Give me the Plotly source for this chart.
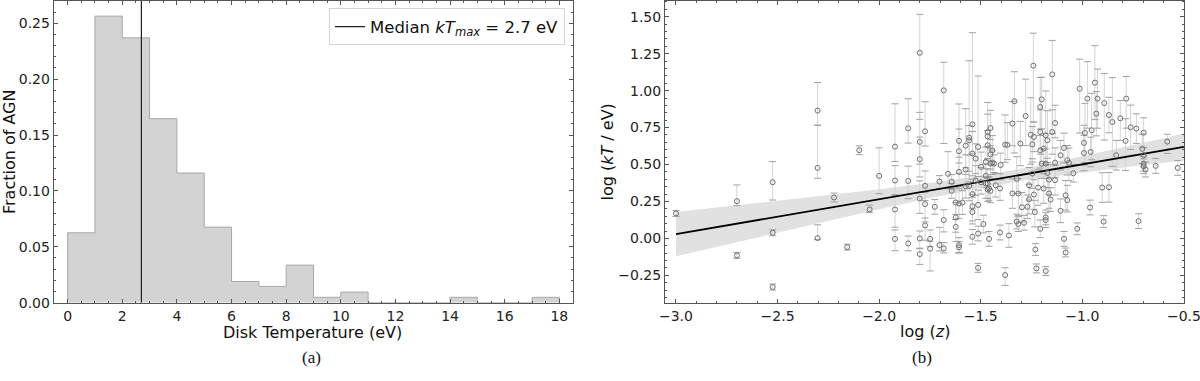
import plotly.graph_objects as go

# ---------------- Panel (a): histogram of disk temperatures ----------------
bin_edges = list(range(0, 19))
frac_agn = [0.0625, 0.2563, 0.2369, 0.1646, 0.1160, 0.0676, 0.0190, 0.0146, 0.0336,
            0.0048, 0.0095, 0.0, 0.0, 0.0, 0.0048, 0.0, 0.0, 0.0048]
median_kt = 2.7

# ---------------- Panel (b): log kT vs log z ----------------
logz = [
    -3.000,
    -2.700, -2.700,
    -2.524, -2.524, -2.524,
    -2.303, -2.303, -2.303,
    -2.222, -2.157, -2.098, -2.047, -2.000,
    -1.922, -1.922, -1.922, -1.922,
    -1.857, -1.857, -1.857,
    -1.800, -1.800, -1.800, -1.800, -1.800, -1.800,
    -1.774, -1.774, -1.774, -1.774,
    -1.749, -1.749, -1.726, -1.703, -1.703,
    -1.682, -1.682, -1.682, -1.661,
    -1.643, -1.643, -1.623, -1.623, -1.623,
    -1.607, -1.607, -1.607, -1.607, -1.607, -1.607,
    -1.590, -1.574, -1.574, -1.574,
    -1.557, -1.557, -1.557,
    -1.541, -1.541, -1.541, -1.541, -1.541, -1.541,
    -1.525, -1.525,
    -1.513, -1.513, -1.513, -1.513,
    -1.498, -1.498, -1.487,
    -1.475, -1.475, -1.475,
    -1.466, -1.466, -1.466, -1.466, -1.466,
    -1.459, -1.459,
    -1.452, -1.452, -1.452, -1.452,
    -1.443, -1.443, -1.434, -1.426,
    -1.405, -1.405, -1.402,
    -1.380, -1.380, -1.369, -1.361,
    -1.344, -1.344, -1.334,
    -1.323, -1.323, -1.315, -1.315,
    -1.305, -1.297, -1.287, -1.279, -1.270,
    -1.262, -1.262, -1.254, -1.246, -1.246, -1.241,
    -1.238, -1.238, -1.234, -1.231, -1.226, -1.218,
    -1.207, -1.207, -1.207, -1.207, -1.200, -1.200, -1.190, -1.190,
    -1.180, -1.180, -1.180, -1.180, -1.180, -1.172, -1.172, -1.164, -1.164, -1.156,
    -1.148, -1.148, -1.134, -1.134, -1.134,
    -1.107, -1.107, -1.090, -1.090, -1.082, -1.082, -1.074, -1.074, -1.066, -1.044, -1.025, -1.013,
    -0.992, -0.992, -0.987, -0.975, -0.962, -0.959, -0.954, -0.938, -0.931, -0.925,
    -0.902, -0.895, -0.892, -0.869, -0.869, -0.852, -0.833, -0.813,
    -0.787, -0.784, -0.762, -0.734, -0.723, -0.705,
    -0.698, -0.698, -0.698, -0.698, -0.689, -0.639, -0.582, -0.530,
]
logkt = [
    0.169,
    0.252, -0.115,
    0.380, 0.038, -0.329,
    0.865, 0.477, 0.002,
    0.277, -0.059, 0.597, 0.196, 0.423,
    0.621, 0.392, 0.196, -0.003,
    0.745, 0.389, -0.034,
    1.256, 0.653, 0.536, 0.270, 0.000, -0.106,
    0.725, 0.356, 0.232, 0.088,
    -0.003, -0.070, 0.214, 0.385, -0.045,
    1.002, 0.124, -0.068, 0.437,
    0.383, 0.322, 0.243, 0.142, 0.078,
    0.660, 0.590, 0.450, 0.236, -0.045, -0.060,
    0.243, 0.628, 0.466, 0.353,
    0.682, 0.664, 0.355,
    0.772, 0.574, 0.300, 0.218, 0.178, 0.011,
    0.540, 0.392,
    0.619, 0.227, 0.033, -0.199,
    0.484, 0.380, 0.097,
    0.518, 0.423, 0.371,
    0.720, 0.691, 0.630, 0.371, 0.331,
    -0.003, 0.338,
    0.747, 0.569, 0.506, 0.322,
    0.596, 0.513, 0.506, 0.360,
    0.338, 0.040, 0.497,
    0.635, -0.248, 0.633, 0.020,
    0.304, 0.777, 0.928,
    0.403, 0.114, 0.097, 0.304,
    0.642, 0.211, 0.106, 0.828, 0.214,
    0.360, 0.265, 0.702, 0.637, 0.439, 1.169,
    0.687, 0.297, 0.178, -0.075, -0.203, 0.344,
    0.889, 0.720, 0.596, 0.065, 0.941, 0.506, 0.608, 0.338,
    0.698, 0.506, 0.142, -0.221, 0.124, 0.664, 0.443, 0.398, 0.304, 0.263,
    1.110, 0.720, 0.781, 0.513, 0.394,
    0.187, 0.563, -0.003, 0.612, 0.292, -0.095, 0.259, 0.529, 0.511, 0.441, 0.065, 1.013,
    0.646, 0.578, 0.714, 0.946, 0.209, 0.585, 0.732, 1.054, 0.844, 0.946,
    0.344, 0.114, 0.916, 0.835, 0.346, 0.788, 0.563, 0.813,
    0.660, 0.946, 0.752, 0.743, 0.117, 0.606,
    0.716, 0.563, 0.506, 0.488, 0.466, 0.491, 0.655, 0.477,
]
err_up = [
    0.02,
    0.11, 0.02,
    0.14, 0.02, 0.02,
    0.19, 0.29, 0.09,
    0.03, 0.02, 0.03, 0.03, 0.19,
    0.29, 0.10, 0.10, 0.06,
    0.20, 0.10, 0.05,
    0.26, 0.20, 0.15, 0.12, 0.05, 0.04,
    0.20, 0.10, 0.08, 0.05,
    0.06, 0.05, 0.05, 0.04, 0.12,
    0.19, 0.07, 0.04, 0.15,
    0.05, 0.05, 0.10, 0.10, 0.05,
    0.25, 0.15, 0.10, 0.10, 0.05, 0.04,
    0.08, 0.25, 0.10, 0.08,
    0.52, 0.10, 0.10,
    0.62, 0.15, 0.10, 0.08, 0.10, 0.05,
    0.10, 0.10,
    0.48, 0.10, 0.05, 0.03,
    0.10, 0.10, 0.06,
    0.10, 0.08, 0.10,
    0.20, 0.15, 0.10, 0.10, 0.08,
    0.05, 0.08,
    0.12, 0.10, 0.10, 0.08,
    0.10, 0.08, 0.06, 0.08,
    0.10, 0.05, 0.08,
    0.20, 0.05, 0.15, 0.08,
    0.10, 0.15, 0.20,
    0.15, 0.05, 0.05, 0.10,
    0.15, 0.10, 0.05, 0.25, 0.08,
    0.12, 0.10, 0.25, 0.12, 0.10, 0.22,
    0.10, 0.10, 0.08, 0.04, 0.03, 0.12,
    0.20, 0.15, 0.10, 0.06, 0.15, 0.10, 0.10, 0.10,
    0.30, 0.10, 0.05, 0.03, 0.05, 0.20, 0.10, 0.10, 0.10, 0.08,
    0.23, 0.15, 0.12, 0.10, 0.10,
    0.08, 0.10, 0.05, 0.10, 0.10, 0.03, 0.10, 0.10, 0.10, 0.06, 0.04, 0.20,
    0.12, 0.12, 0.20, 0.25, 0.05, 0.10, 0.25, 0.25, 0.15, 0.20,
    0.10, 0.04, 0.20, 0.12, 0.10, 0.30, 0.10, 0.12,
    0.15, 0.15, 0.15, 0.10, 0.05, 0.10,
    0.10, 0.05, 0.05, 0.05, 0.05, 0.05, 0.05, 0.05,
]
err_dn = [
    0.02,
    0.03, 0.02,
    0.12, 0.02, 0.02,
    0.10, 0.07, 0.01,
    0.03, 0.02, 0.03, 0.02, 0.12,
    0.10, 0.10, 0.12, 0.08,
    0.10, 0.12, 0.05,
    0.45, 0.15, 0.12, 0.10, 0.07, 0.07,
    0.10, 0.10, 0.12, 0.10,
    0.05, 0.15, 0.05, 0.05, 0.04,
    0.36, 0.08, 0.03, 0.10,
    0.05, 0.05, 0.08, 0.10, 0.10,
    0.15, 0.15, 0.10, 0.10, 0.05, 0.04,
    0.08, 0.15, 0.10, 0.08,
    0.30, 0.10, 0.10,
    0.20, 0.15, 0.10, 0.10, 0.08, 0.05,
    0.10, 0.10,
    0.20, 0.10, 0.05, 0.03,
    0.10, 0.08, 0.06,
    0.10, 0.08, 0.10,
    0.10, 0.15, 0.10, 0.10, 0.08,
    0.05, 0.08,
    0.12, 0.10, 0.10, 0.08,
    0.10, 0.08, 0.06, 0.08,
    0.08, 0.05, 0.10,
    0.12, 0.07, 0.10, 0.08,
    0.10, 0.15, 0.35,
    0.10, 0.05, 0.05, 0.15,
    0.15, 0.10, 0.05, 0.20, 0.08,
    0.10, 0.10, 0.20, 0.12, 0.10, 0.38,
    0.10, 0.10, 0.10, 0.04, 0.03, 0.12,
    0.15, 0.15, 0.12, 0.06, 0.20, 0.10, 0.10, 0.10,
    0.20, 0.10, 0.05, 0.03, 0.05, 0.15, 0.10, 0.10, 0.10, 0.08,
    0.40, 0.15, 0.10, 0.10, 0.10,
    0.08, 0.10, 0.05, 0.10, 0.10, 0.03, 0.08, 0.10, 0.12, 0.06, 0.04, 0.30,
    0.15, 0.12, 0.20, 0.20, 0.05, 0.10, 0.20, 0.25, 0.15, 0.20,
    0.10, 0.04, 0.25, 0.12, 0.10, 0.30, 0.10, 0.15,
    0.20, 0.20, 0.15, 0.10, 0.05, 0.10,
    0.10, 0.08, 0.05, 0.05, 0.05, 0.05, 0.08, 0.05,
]
assert len(logz) == len(logkt) == len(err_up) == len(err_dn)

# linear fit and its confidence band
fit_x = [-3.0, -0.5]
fit_y = [0.029, 0.619]
band_x = [-3.0, -2.75, -2.5, -2.25, -2.0, -1.75, -1.5, -1.25, -1.0, -0.75, -0.5]
band_hi = [0.179, 0.216, 0.254, 0.293, 0.332, 0.375, 0.424, 0.484, 0.555, 0.631, 0.710]
band_lo = [-0.121, -0.040, 0.040, 0.119, 0.198, 0.273, 0.342, 0.400, 0.447, 0.489, 0.528]

# ---------------- figure ----------------
W, H = 1200, 381
FONT = "DejaVu Sans"
AXC = "#555555"

fig = go.Figure()

# step-filled histogram outline: start at (0,0), go up, across every bin, back down
step_x = [bin_edges[0]] + bin_edges
step_y = [0] + frac_agn + [0]
fig.add_trace(go.Scatter(
    x=step_x, y=step_y, mode="lines", line=dict(shape="hv", color="#a8a8a8", width=1),
    fill="tozeroy", fillcolor="#d3d3d3", showlegend=False, hoverinfo="skip",
    xaxis="x", yaxis="y"))

fig.add_trace(go.Scatter(
    x=[median_kt, median_kt], y=[0, 0.2703], mode="lines",
    line=dict(color="#222222", width=1.2),
    name="Median <i>kT</i><sub><i>max</i></sub> = 2.7 eV",
    showlegend=True, xaxis="x", yaxis="y"))

# confidence band
fig.add_trace(go.Scatter(x=band_x, y=band_lo, mode="lines", line=dict(width=0),
                         showlegend=False, hoverinfo="skip", xaxis="x2", yaxis="y2"))
fig.add_trace(go.Scatter(x=band_x, y=band_hi, mode="lines", line=dict(width=0),
                         fill="tonexty", fillcolor="rgba(200,200,200,0.55)",
                         showlegend=False, hoverinfo="skip", xaxis="x2", yaxis="y2"))

# error bars + caps
fig.add_trace(go.Scatter(
    x=logz, y=logkt, mode="markers", marker=dict(size=1, opacity=0),
    error_y=dict(type="data", symmetric=False, array=err_up, arrayminus=err_dn,
                 color="#d4d4d4", thickness=1, width=0),
    showlegend=False, hoverinfo="skip", xaxis="x2", yaxis="y2"))
cap_x = logz + logz
cap_y = [v + e for v, e in zip(logkt, err_up)] + [v - e for v, e in zip(logkt, err_dn)]
fig.add_trace(go.Scatter(
    x=cap_x, y=cap_y, mode="markers",
    marker=dict(symbol="line-ew", size=5, line=dict(color="#a0a0a0", width=1)),
    showlegend=False, hoverinfo="skip", xaxis="x2", yaxis="y2"))

# fit line
fig.add_trace(go.Scatter(x=fit_x, y=fit_y, mode="lines", line=dict(color="black", width=1.8),
                         showlegend=False, xaxis="x2", yaxis="y2"))

# data points
fig.add_trace(go.Scatter(
    x=logz, y=logkt, mode="markers",
    marker=dict(symbol="circle-open", size=5, color="#707070", line=dict(width=1, color="#707070")),
    showlegend=False, xaxis="x2", yaxis="y2"))

ydom = [1 - 302.7 / H, 1 - 0.5 / H]


def ax(**kw):
    base = dict(showline=True, linecolor=AXC, linewidth=1, mirror="allticks",
                ticks="inside", ticklen=4, tickwidth=1, tickcolor=AXC,
                showgrid=False, zeroline=False, automargin=False,
                ticklabeloverflow="allow",
                tickfont=dict(family=FONT, size=14, color="#222222"))
    base.update(kw)
    return base


fig.update_layout(
    width=W, height=H, autosize=False,
    margin=dict(l=0, r=0, t=0, b=0, pad=0),
    paper_bgcolor="white", plot_bgcolor="white",
    xaxis=ax(domain=[53.7 / W, 573.3 / W], range=[-0.51, 18.51], tick0=0, dtick=2,
             minor=dict(dtick=0.5, ticks="inside", ticklen=2, tickcolor=AXC),
             anchor="y"),
    yaxis=ax(domain=ydom, range=[0, 0.2703], tick0=0, dtick=0.05, tickformat=".2f",
             minor=dict(dtick=0.01, ticks="inside", ticklen=2, tickcolor=AXC),
             anchor="x"),
    xaxis2=ax(domain=[665 / W, 1184 / W], range=[-3.054, -0.4995], tick0=0, dtick=0.5,
              tickformat=".1f",
              minor=dict(dtick=0.1, ticks="inside", ticklen=2, tickcolor=AXC),
              anchor="y2"),
    yaxis2=ax(domain=ydom, range=[-0.435, 1.61], tick0=0, dtick=0.25, tickformat=".2f",
              minor=dict(dtick=0.05, ticks="inside", ticklen=2, tickcolor=AXC),
              anchor="x2"),
    legend=dict(x=565 / W, xanchor="right", y=1 - 8.3 / H, yanchor="top",
                bgcolor="white", bordercolor="#d5d5d5", borderwidth=1,
                font=dict(family=FONT, size=16.5, color="#111111")),
    font=dict(family=FONT, color="#111111"),
)

ann = [
    dict(text="Fraction of AGN", x=9 / W, y=1 - 152 / H, textangle=-90,
         font=dict(family=FONT, size=16)),
    dict(text="Disk Temperature (eV)", x=313 / W, y=1 - 332 / H,
         font=dict(family=FONT, size=16)),
    dict(text="(a)", x=311 / W, y=1 - 357 / H,
         font=dict(family="Liberation Serif", size=17)),
    dict(text="log (<i>kT</i> / eV)", x=606.5 / W, y=1 - 152 / H, textangle=-90,
         font=dict(family=FONT, size=16)),
    dict(text="log (<i>z</i>)", x=925 / W, y=1 - 331 / H,
         font=dict(family=FONT, size=16)),
    dict(text="(b)", x=922 / W, y=1 - 357 / H,
         font=dict(family="Liberation Serif", size=17)),
]
for a in ann:
    a.update(xref="paper", yref="paper", showarrow=False, xanchor="center", yanchor="middle")
fig.update_layout(annotations=ann)

# the page's default 8px body margin would shift the figure; remove it
fig.write_html("out.html", config={"displayModeBar": False},
               post_script="document.body.style.margin='0px';")
